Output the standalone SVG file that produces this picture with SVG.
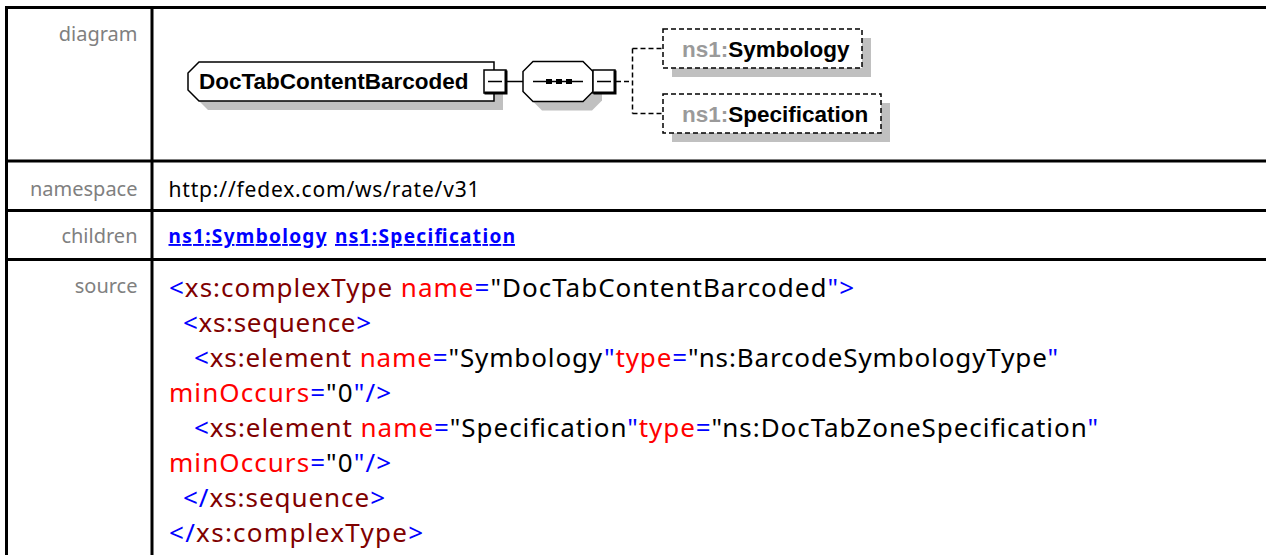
<svg xmlns="http://www.w3.org/2000/svg" width="1266" height="555" viewBox="0 0 1266 555">
<style>
.grid{stroke:#000;stroke-width:3;fill:none}
.lbl{font-family:"Noto Sans","Open Sans",sans-serif;font-size:20px;fill:#808080;text-anchor:end}
.val{font-family:"Noto Sans","Open Sans",sans-serif;font-size:21px;fill:#000}
.lnk{font-family:"Noto Sans","Open Sans",sans-serif;font-size:19px;font-weight:bold;fill:#0000ff}
.src{font-family:"Noto Sans","Open Sans",sans-serif;font-size:26px;fill:#000}
.b{fill:#0000ff}.t{fill:#800000}.a{fill:#ff0000}.k{fill:#000}
.shadow{fill:#c0c0c0;stroke:none}
.box{fill:#fff;stroke:#000;stroke-width:1.5}
.opt{fill:#fff;stroke:#000;stroke-width:1.5;stroke-dasharray:5 3}
.nm{font-family:"Liberation Sans",Arial,sans-serif;font-weight:bold;font-size:22.5px;fill:#000}
.ns{fill:#9a9a9a}
.conn{stroke:#000;stroke-width:1.5;fill:none}
.dconn{stroke:#000;stroke-width:1.5;fill:none;stroke-dasharray:5 3}
</style>
<rect width="1266" height="555" fill="#fff"/>
<g id="table">
<line class="grid" x1="5" y1="7.5" x2="1266" y2="7.5"/>
<line class="grid" x1="6.5" y1="6" x2="6.5" y2="555"/>
<line class="grid" x1="152" y1="6" x2="152" y2="555"/>
<line class="grid" x1="5" y1="161" x2="1266" y2="161"/>
<line class="grid" x1="5" y1="210.5" x2="1266" y2="210.5"/>
<line class="grid" x1="5" y1="259.5" x2="1266" y2="259.5"/>
<text class="lbl" x="137.5" y="41">diagram</text>
<text class="lbl" x="137.5" y="196">namespace</text>
<text class="lbl" x="137.5" y="243">children</text>
<text class="lbl" x="137.5" y="293">source</text>
<text class="val" x="168.5" y="197" textLength="311">http://fedex.com/ws/rate/v31</text>
<text class="lnk" x="168.5" y="243" textLength="158" text-decoration="underline">ns1:Symbology</text>
<text class="lnk" x="335" y="243" textLength="180" text-decoration="underline">ns1:Specification</text>
</g>
<g id="source">
<text class="src" x="169" y="297" textLength="685"><tspan class="b">&lt;</tspan><tspan class="t">xs:complexType</tspan> <tspan class="a">name</tspan><tspan class="b">=</tspan>"DocTabContentBarcoded<tspan class="b">"&gt;</tspan></text>
<text class="src" x="183" y="332" textLength="188"><tspan class="b">&lt;</tspan><tspan class="t">xs:sequence</tspan><tspan class="b">&gt;</tspan></text>
<text class="src" x="194" y="367" textLength="864"><tspan class="b">&lt;</tspan><tspan class="t">xs:element</tspan> <tspan class="a">name</tspan><tspan class="b">=</tspan>"Symbology<tspan class="b">"</tspan><tspan class="a">type</tspan><tspan class="b">=</tspan>"ns:BarcodeSymbologyType<tspan class="b">"</tspan></text>
<text class="src" x="169" y="402" textLength="222"><tspan class="a">minOccurs</tspan><tspan class="b">=</tspan>"0<tspan class="b">"/&gt;</tspan></text>
<text class="src" x="194" y="437" textLength="904"><tspan class="b">&lt;</tspan><tspan class="t">xs:element</tspan> <tspan class="a">name</tspan><tspan class="b">=</tspan>"Specification<tspan class="b">"</tspan><tspan class="a">type</tspan><tspan class="b">=</tspan>"ns:DocTabZoneSpecification<tspan class="b">"</tspan></text>
<text class="src" x="169" y="472" textLength="222"><tspan class="a">minOccurs</tspan><tspan class="b">=</tspan>"0<tspan class="b">"/&gt;</tspan></text>
<text class="src" x="183" y="507" textLength="202"><tspan class="b">&lt;/</tspan><tspan class="t">xs:sequence</tspan><tspan class="b">&gt;</tspan></text>
<text class="src" x="169" y="542" textLength="254"><tspan class="b">&lt;/</tspan><tspan class="t">xs:complexType</tspan><tspan class="b">&gt;</tspan></text>
</g>
<g id="connectors">
<line class="conn" x1="507" y1="81.5" x2="523" y2="81.5"/>
<line class="dconn" x1="616" y1="81.5" x2="632.5" y2="81.5"/>
<line class="dconn" x1="632.5" y1="48.5" x2="632.5" y2="113.5"/>
<line class="dconn" x1="632.5" y1="48.5" x2="663" y2="48.5"/>
<line class="dconn" x1="632.5" y1="113.5" x2="663" y2="113.5"/>
</g>
<g id="node-DocTabContentBarcoded">
<polygon class="shadow" points="208,71 503,71 503,110 208,110 197,99 197,82"/>
<polygon class="box" points="199,62 494,62 494,101 199,101 188,90 188,73"/>
<text class="nm" x="199" y="89">DocTabContentBarcoded</text>
<rect x="484" y="70" width="22" height="23" fill="#fff" stroke="#000" stroke-width="1.5"/>
<polyline points="506,70.5 506,93 484.5,93" fill="none" stroke="#000" stroke-width="3"/>
<line x1="488" y1="81.5" x2="502" y2="81.5" stroke="#000" stroke-width="1.5"/>
</g>
<g id="node-sequence">
<polygon class="shadow" points="542,70.5 592,70.5 602,80.5 602,100.5 592,110.5 542,110.5 532,100.5 532,80.5"/>
<polygon class="box" points="533,61.5 583,61.5 593,71.5 593,91.5 583,101.5 533,101.5 523,91.5 523,71.5"/>
<line x1="533" y1="81.5" x2="583" y2="81.5" stroke="#000" stroke-width="1.5"/>
<rect x="546" y="79" width="6" height="5" fill="#000"/>
<rect x="556" y="79" width="6" height="5" fill="#000"/>
<rect x="566" y="79" width="6" height="5" fill="#000"/>
<rect x="593" y="70" width="22" height="23" fill="#fff" stroke="#000" stroke-width="1.5"/>
<polyline points="615,70.5 615,93 593.5,93" fill="none" stroke="#000" stroke-width="3"/>
<line x1="597" y1="81.5" x2="611" y2="81.5" stroke="#000" stroke-width="1.5"/>
</g>
<g id="node-Symbology">
<rect class="shadow" x="672" y="38" width="199" height="39"/>
<rect class="opt" x="663" y="29" width="199" height="39"/>
<text class="nm" x="682" y="57"><tspan class="ns">ns1:</tspan>Symbology</text>
</g>
<g id="node-Specification">
<rect class="shadow" x="672" y="103" width="218" height="39"/>
<rect class="opt" x="663" y="94" width="218" height="39"/>
<text class="nm" x="682" y="122"><tspan class="ns">ns1:</tspan>Specification</text>
</g>
</svg>
